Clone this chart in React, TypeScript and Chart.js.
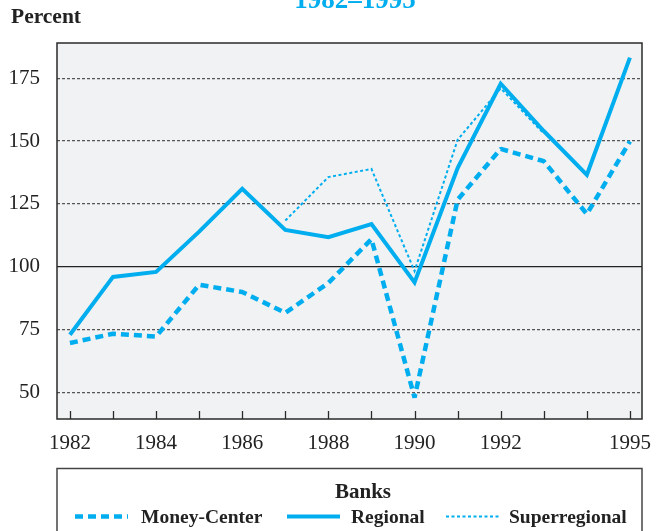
import React, { useEffect, useRef } from "react";
import { Chart, registerables } from "chart.js";

Chart.register(...registerables);

const years = [1982, 1983, 1984, 1985, 1986, 1987, 1988, 1989, 1990, 1991, 1992, 1993, 1994, 1995];
const moneyCenter = [69.7, 73.4, 72.3, 92.9, 90, 81.7, 93.6, 111, 48, 126.7, 146.9, 142, 121, 149.9];
const regional = [73, 96, 98, 114, 131, 114.7, 111.8, 117, 93.8, 139.3, 172.8, 154, 136.6, 183.2];
const superregional = [null, null, null, null, null, 118.4, 135.7, 138.9, 98.3, 150.5, 171, 153, null, null];
const xTickLabels = [1982, 1984, 1986, 1988, 1990, 1992, 1995];
const yTicks = [50, 75, 100, 125, 150, 175];

const seriesNames = ["Money-Center", "Regional", "Superregional"];
const titleText = "1982\u20131995";
const yAxisTitle = "Percent";
const legendTitle = "Banks";

const BLUE = "#00aeef";
const SERIF = "'Liberation Serif', 'Times New Roman', serif";

const toPoints = (vals: (number | null)[]) =>
  years.map((y, i) => ({ x: y, y: vals[i] }));

const decorPlugin = {
  id: "decor",
  beforeDraw(chart: any) {
    const { ctx, chartArea } = chart;
    ctx.save();
    ctx.fillStyle = "#ffffff";
    ctx.fillRect(0, 0, chart.width, chart.height);
    ctx.fillStyle = "#f0f2f4";
    ctx.fillRect(chartArea.left, chartArea.top, chartArea.right - chartArea.left, chartArea.bottom - chartArea.top);
    ctx.restore();
  },
  afterDraw(chart: any) {
    const { ctx, chartArea } = chart;
    const xs = chart.scales.x;
    ctx.save();
    // plot border
    ctx.strokeStyle = "#2a2a2a";
    ctx.lineWidth = 1.5;
    ctx.setLineDash([]);
    ctx.strokeRect(chartArea.left, chartArea.top, chartArea.right - chartArea.left, chartArea.bottom - chartArea.top);
    // inner tick marks
    ctx.lineWidth = 1.3;
    xs.ticks.forEach((t: any) => {
      const px = Math.round(xs.getPixelForValue(t.value)) + 0.5;
      ctx.beginPath();
      ctx.moveTo(px, chartArea.bottom);
      ctx.lineTo(px, chartArea.bottom - 8);
      ctx.stroke();
    });
    // title (cut off at top)
    ctx.fillStyle = BLUE;
    ctx.font = `bold 27px ${SERIF}`;
    ctx.textAlign = "center";
    ctx.textBaseline = "alphabetic";
    ctx.fillText(titleText, 355, 8);
    // y title
    ctx.fillStyle = "#222";
    ctx.font = `bold 21.5px ${SERIF}`;
    ctx.textAlign = "left";
    ctx.fillText(yAxisTitle, 11, 23);
    // legend box
    ctx.strokeStyle = "#444";
    ctx.lineWidth = 1.5;
    ctx.strokeRect(chartArea.left, 468.5, chartArea.right - chartArea.left, 80);
    ctx.fillStyle = "#222";
    ctx.font = `bold 21px ${SERIF}`;
    ctx.textAlign = "center";
    ctx.fillText(legendTitle, 363, 498);
    const items = [
      { lx: 75, tx: 141 },
      { lx: 287, tx: 351 },
      { lx: 446, tx: 509 },
    ];
    chart.data.datasets.forEach((ds: any, i: number) => {
      const it = items[i];
      const ly = 516.5;
      ctx.strokeStyle = ds.borderColor;
      ctx.lineWidth = ds.borderWidth;
      ctx.setLineDash(ds.borderDash || []);
      ctx.beginPath();
      ctx.moveTo(it.lx, ly);
      ctx.lineTo(it.lx + 53, ly);
      ctx.stroke();
      ctx.setLineDash([]);
      ctx.fillStyle = "#222";
      ctx.font = `bold 19.5px ${SERIF}`;
      ctx.textAlign = "left";
      ctx.textBaseline = "middle";
      ctx.fillText(ds.label, it.tx, ly + 1);
    });
    ctx.restore();
  },
};

export default function App() {
  const ref = useRef<HTMLCanvasElement | null>(null);
  useEffect(() => {
    if (!ref.current) return;
    const chart = new Chart(ref.current, {
      type: "line",
      data: {
        datasets: [
          {
            label: seriesNames[0],
            data: toPoints(moneyCenter),
            borderColor: BLUE,
            borderWidth: 4.5,
            borderDash: [8, 5],
            pointRadius: 0,
            tension: 0,
            fill: false,
            borderJoinStyle: "bevel",
          },
          {
            label: seriesNames[1],
            data: toPoints(regional),
            borderColor: BLUE,
            borderWidth: 4,
            pointRadius: 0,
            tension: 0,
            fill: false,
            borderJoinStyle: "miter",
          },
          {
            label: seriesNames[2],
            data: toPoints(superregional),
            borderColor: BLUE,
            borderWidth: 2,
            borderDash: [3, 2.5],
            pointRadius: 0,
            tension: 0,
            fill: false,
            spanGaps: false,
            borderJoinStyle: "miter",
          },
        ],
      },
      options: {
        responsive: false,
        animation: false,
        layout: { padding: { top: 43, right: 25, left: 0, bottom: 0 } },
        plugins: { legend: { display: false }, tooltip: { enabled: false }, title: { display: false } },
        scales: {
          x: {
            type: "linear",
            min: 1981.7,
            max: 1995.28,
            afterBuildTicks: (s: any) => {
              s.ticks = years.map((v) => ({ value: v }));
            },
            afterFit: (s: any) => {
              s.height = 112;
            },
            grid: { display: false, drawTicks: false },
            border: { display: false },
            ticks: {
              autoSkip: false,
              maxRotation: 0,
              padding: 12,
              color: "#222",
              font: { family: SERIF, size: 21 },
              callback: (v: any) => (xTickLabels.includes(Number(v)) ? String(v) : ""),
            },
          },
          y: {
            type: "linear",
            min: 39.5,
            max: 189,
            afterBuildTicks: (s: any) => {
              s.ticks = yTicks.map((v) => ({ value: v }));
            },
            afterFit: (s: any) => {
              s.width = 57;
            },
            grid: {
              drawTicks: false,
              color: (c: any) => (c.tick && c.tick.value === 100 ? "#222" : "#555"),
              lineWidth: (c: any) => (c.tick && c.tick.value === 100 ? 1.3 : 1.2),
            },
            border: {
              display: false,
              dash: (c: any) => (c.tick && c.tick.value === 100 ? [] : [3, 2]),
            },
            ticks: {
              padding: 17,
              color: "#222",
              font: { family: SERIF, size: 21 },
              callback: (v: any) => String(v),
            },
          },
        },
      },
      plugins: [decorPlugin],
    } as any);
    return () => chart.destroy();
  }, []);
  return (
    <div style={{ position: "absolute", left: 0, top: 0, width: 667, height: 531 }}>
      <canvas ref={ref} width={667} height={531} style={{ display: "block" }} />
    </div>
  );
}
